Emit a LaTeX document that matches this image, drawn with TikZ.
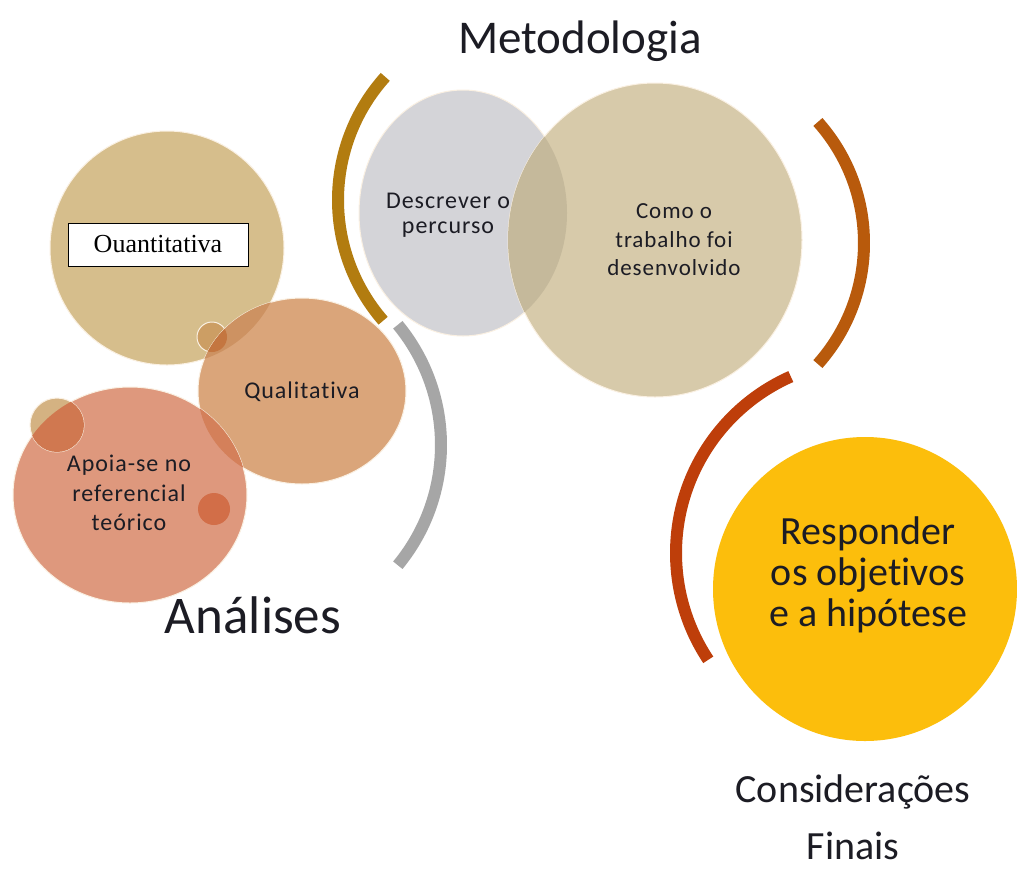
\documentclass[tikz,border=0pt]{standalone}
\usepackage{fontspec}
\setmainfont{Carlito}[Ligatures=NoCommon]
\newfontfamily\serifbox{Liberation Serif}
\newfontfamily\lblfont{Carlito}[LetterSpace=4,Ligatures=NoCommon]
\definecolor{txt}{RGB}{28,28,36}
\definecolor{quantcol}{RGB}{214,190,140}
\definecolor{qualcol}{RGB}{218,165,122}
\definecolor{apoiacol}{RGB}{222,152,125}
\definecolor{lensqq}{RGB}{205,146,98}
\definecolor{lensqa}{RGB}{212,128,90}
\definecolor{dotone}{RGB}{204,158,100}
\definecolor{dotonedark}{RGB}{196,118,64}
\definecolor{dottwo}{RGB}{212,178,130}
\definecolor{dottwodark}{RGB}{208,120,80}
\definecolor{dotthree}{RGB}{210,110,72}
\definecolor{greycol}{RGB}{212,212,216}
\definecolor{tancol}{RGB}{215,202,170}
\definecolor{lensgt}{RGB}{197,185,155}
\definecolor{goldarc}{RGB}{178,124,16}
\definecolor{greyarc}{RGB}{166,166,166}
\definecolor{orangearc}{RGB}{184,90,12}
\definecolor{redarc}{RGB}{190,62,10}
\definecolor{yellowcol}{RGB}{252,190,12}
\definecolor{rimcol}{RGB}{250,240,226}
\tikzset{
  rim/.style={draw=rimcol,line width=1pt},
  band/.style={line width=12pt,line cap=butt},
  smalllbl/.style={text=txt,font=\lblfont\fontsize{24}{29}\selectfont,align=center,inner sep=0pt},
  biglbl/.style={text=txt,inner sep=0pt},
}
\begin{document}
\begin{tikzpicture}[x=1pt,y=-1pt]
\useasboundingbox (0,0) rectangle (1017,868);
\fill[white] (0,0) rectangle (1017,868);

% centres
\coordinate (quantc) at (167,248);
\coordinate (qualc) at (302,391);
\coordinate (apoiac) at (130,495);
\coordinate (dota) at (212,337);
\coordinate (dotb) at (57,425);
\coordinate (dotc) at (214,509);
\coordinate (greyc) at (463,213);
\coordinate (tanc) at (655,240);
\coordinate (yelc) at (865,589);
\coordinate (goldc) at (522,200);
\coordinate (greyarcc) at (252,445);
\coordinate (orangec) at (682,243);
\coordinate (redc) at (869,553);

% left cluster
\path[fill=quantcol,rim] (quantc) circle (117);
\path[fill=dotone,rim] (dota) circle (15);
\path[fill=qualcol,rim] (qualc) ellipse [x radius=104,y radius=93];
\begin{scope}
  \clip (qualc) ellipse [x radius=104,y radius=93];
  \fill[lensqq] (quantc) circle (117);
  \fill[dotonedark] (dota) circle (15);
\end{scope}
\path[fill=apoiacol,rim] (apoiac) ellipse [x radius=117,y radius=108];
\path[fill=dottwo,rim] (dotb) circle (27);
\begin{scope}
  \clip (apoiac) ellipse [x radius=117,y radius=108];
  \fill[lensqa] (qualc) ellipse [x radius=104,y radius=93];
  \fill[dottwodark] (dotb) circle (27);
\end{scope}
\fill[dotthree] (dotc) circle (16);

% Metodologia cluster
\path[fill=greycol,rim] (greyc) ellipse [x radius=104,y radius=123];
\path[fill=tancol,rim] (tanc) ellipse [x radius=147,y radius=157];
\begin{scope}
  \clip (tanc) ellipse [x radius=147,y radius=157];
  \fill[lensgt] (greyc) ellipse [x radius=104,y radius=123];
\end{scope}

% yellow circle
\fill[yellowcol] (yelc) circle (152);

% arcs
\draw[band,goldarc] (goldc) ++(139:184) arc[start angle=139,end angle=222,radius=184];
\draw[band,greyarc] (greyarcc) ++(-39.5:189) arc[start angle=-39.5,end angle=39.5,radius=189];
\draw[band,orangearc] (orangec) ++(-41.7:182) arc[start angle=-41.7,end angle=41.7,radius=182];
\draw[band,redarc] (redc) ++(146.4:193) arc[start angle=146.4,end angle=246.1,radius=193];

% box
\node[draw=black,fill=white,line width=0.8pt,minimum width=180pt,minimum height=43pt,inner sep=0pt,
      font=\serifbox\fontsize{26}{30}\selectfont,text=black] (quantbox) at (158,244.5) {Ouantitativa};

% labels
\node[smalllbl,anchor=base] (qualtxt) at (302,398) {Qualitativa};
\node[smalllbl,font=\lblfont\fontsize{24}{29.5}\selectfont] (apoiatxt) at (129,493) {Apoia-se no\\referencial\\teórico};
\node[smalllbl,font=\lblfont\fontsize{24}{25}\selectfont] (descrtxt) at (448,215) {Descrever o\\percurso};
\node[smalllbl,font=\lblfont\fontsize{23}{28.5}\selectfont] (comotxt) at (674,240) {Como o\\trabalho foi\\desenvolvido};
\node[biglbl,align=center,font=\fontsize{40}{41}\selectfont] (resptxt) at (868,575) {Responder\\os objetivos\\e a hipótese};

\node[biglbl,anchor=base,font=\fontsize{47}{50}\selectfont] (metod) at (580,53) {Metodologia};
\node[biglbl,anchor=base,font=\fontsize{53}{56}\selectfont] (anal) at (253,633) {Análises};
\node[biglbl,align=center,font=\fontsize{40}{57}\selectfont] (consid) at (853,817) {Considerações\\Finais};
\end{tikzpicture}
\end{document}
